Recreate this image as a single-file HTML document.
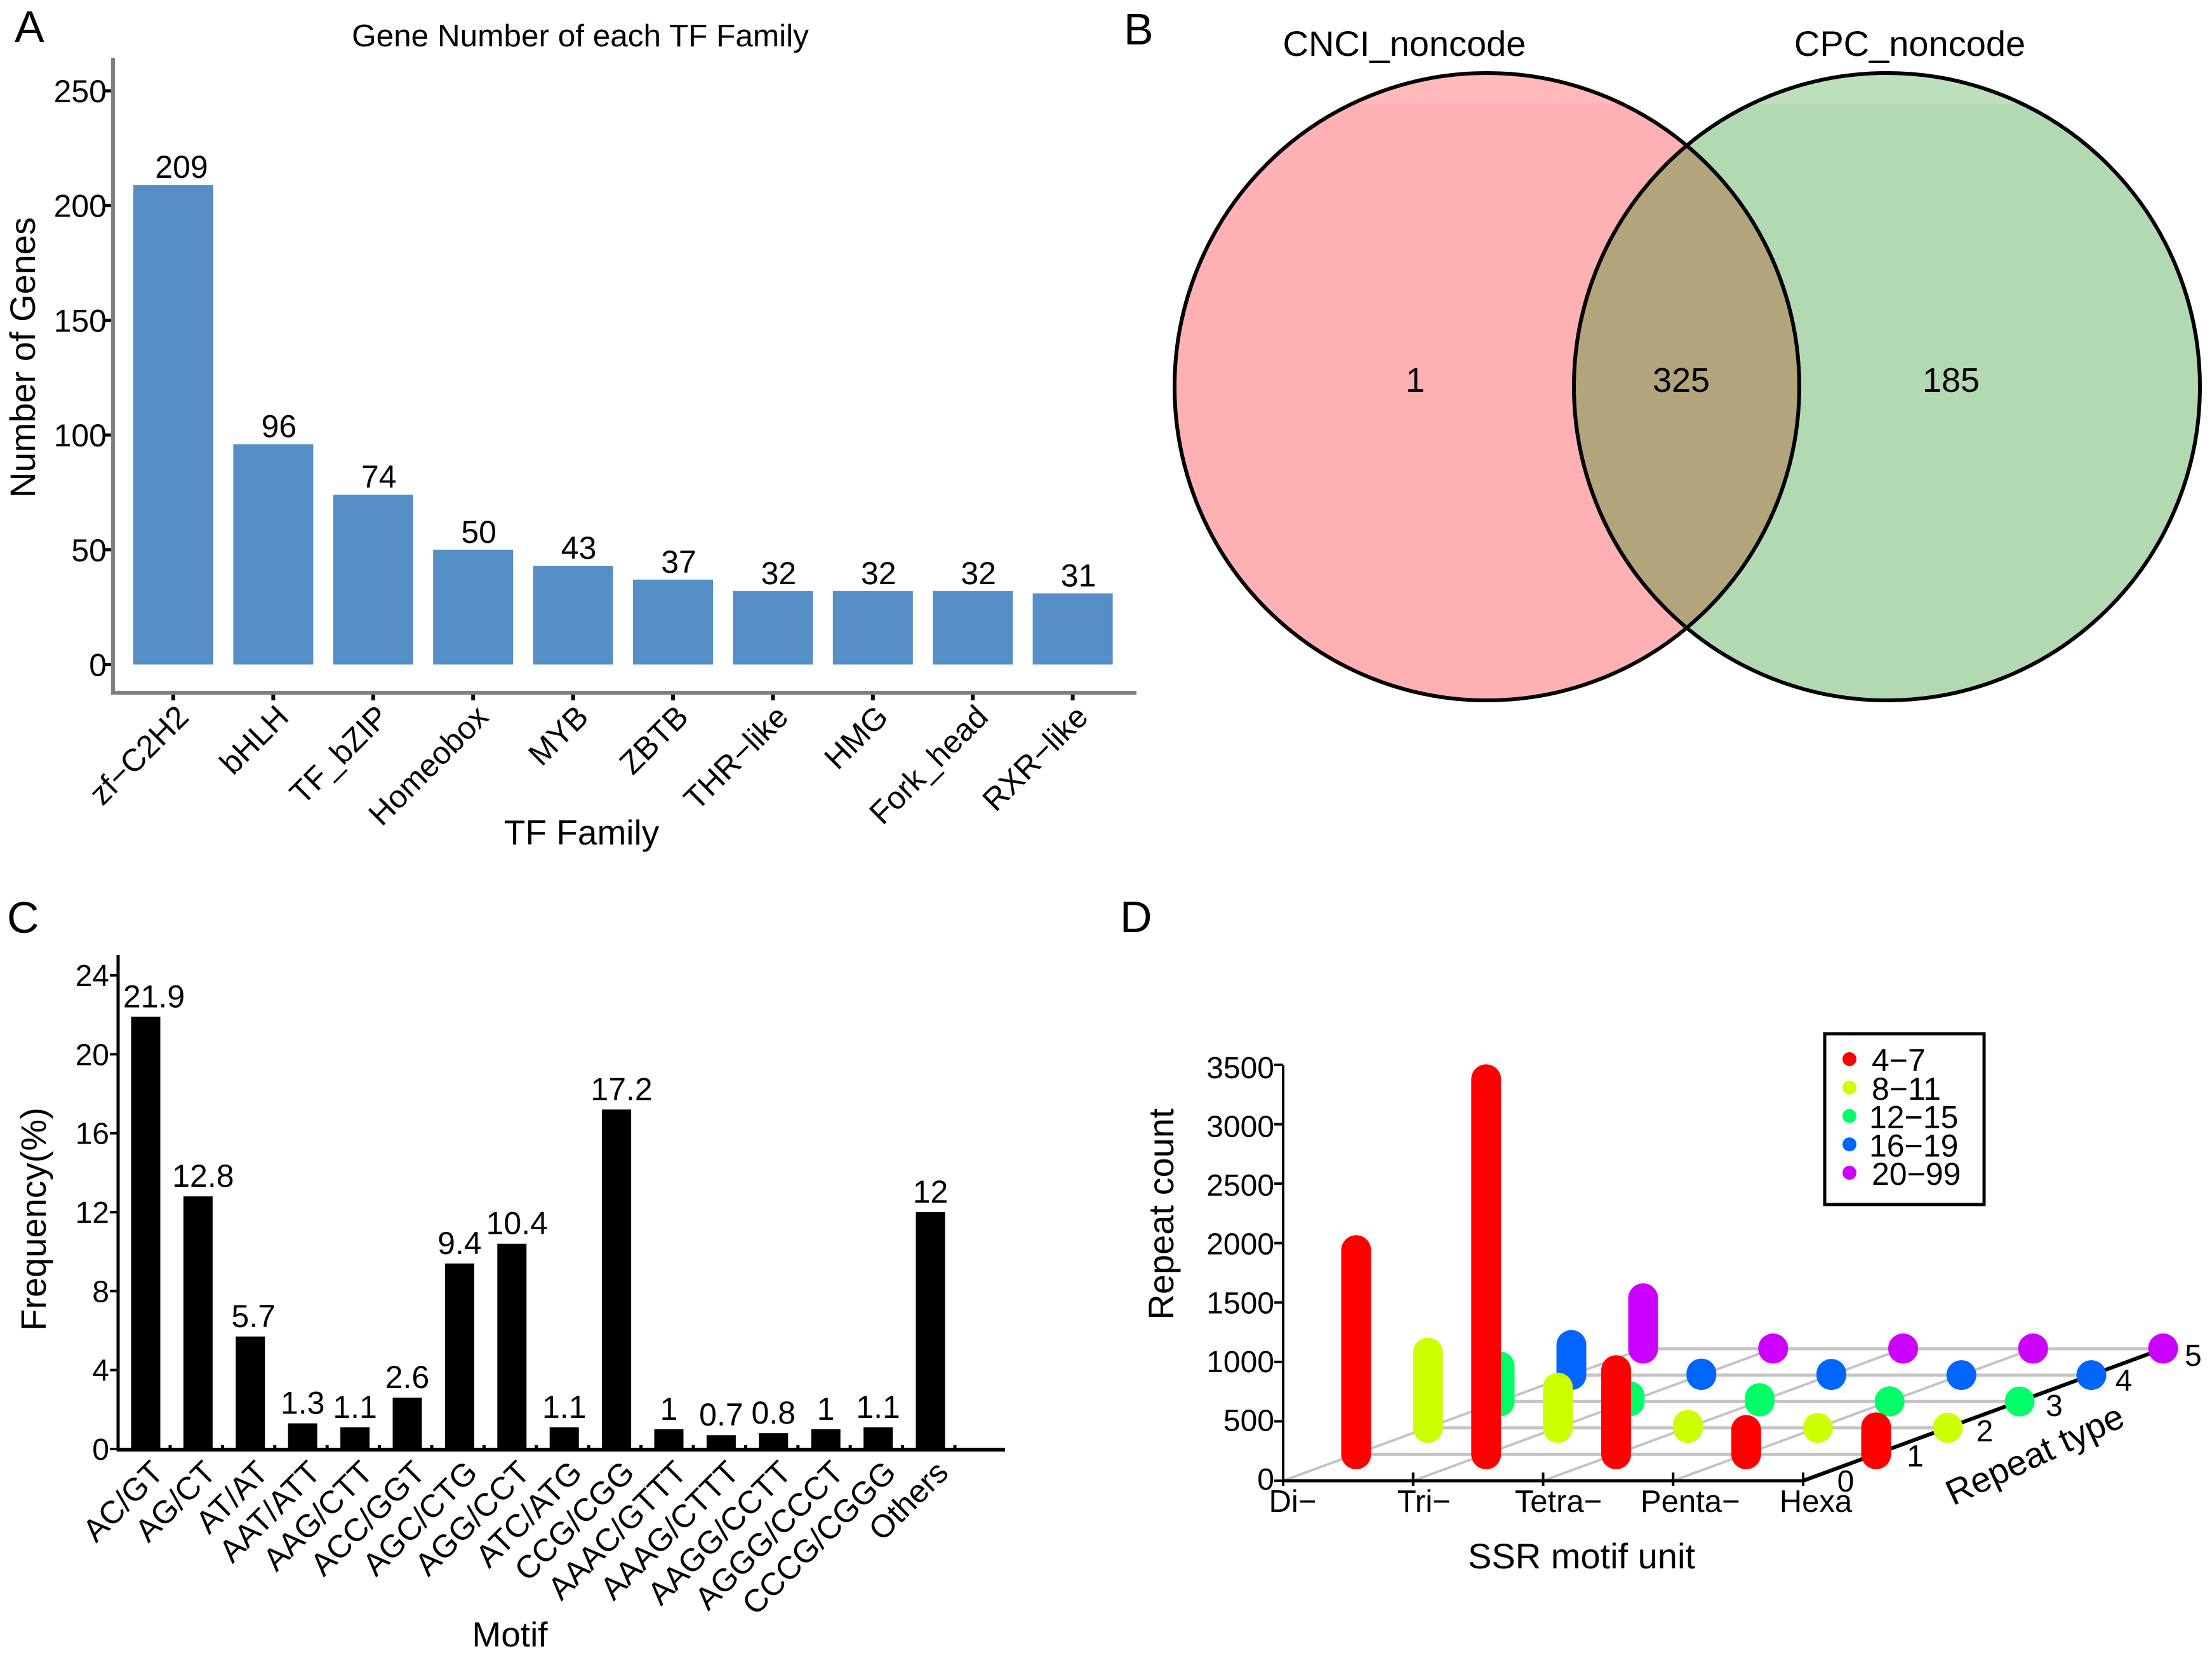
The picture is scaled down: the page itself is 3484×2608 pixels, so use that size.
<!DOCTYPE html>
<html lang="en">
<head>
<meta charset="utf-8">
<title>TF families, Venn diagram, motif frequency and SSR repeats</title>
<style>
html,body{margin:0;padding:0;background:#fff;}
svg{display:block;}
text{font-family:"Liberation Sans",Arial,sans-serif;fill:#000;}
</style>
</head>
<body>
<svg id="figure" xmlns="http://www.w3.org/2000/svg" width="3484" height="2608" viewBox="0 0 3484 2608">
  <rect x="0" y="0" width="3484" height="2608" fill="#fff"/>

  <text x="23" y="66" font-size="70">A</text>
  <text x="1770" y="70" font-size="70">B</text>
  <text x="11" y="1469" font-size="70">C</text>
  <text x="1764" y="1468" font-size="70">D</text>

  <g id="panel-a">
    <text x="914" y="73" font-size="49.5" text-anchor="middle">Gene Number of each TF Family</text>
    <text transform="translate(55,563) rotate(-90)" font-size="56" text-anchor="middle">Number of Genes</text>
    <text x="916" y="1330" font-size="55" text-anchor="middle">TF Family</text>
  </g>

  <g id="panel-b">
    <defs>
      <clipPath id="clip-left"><ellipse cx="2342" cy="609" rx="492" ry="494"/></clipPath>
      <clipPath id="clip-right"><ellipse cx="2972" cy="609" rx="493" ry="494"/></clipPath>
    </defs>
    <ellipse cx="2342" cy="609" rx="492" ry="494" fill="#ffb0b2"/>
    <ellipse cx="2972" cy="609" rx="493" ry="494" fill="#b3d9b3"/>
    <rect x="1848" y="110" width="1000" height="54" fill="#ffb9ba" clip-path="url(#clip-left)"/>
    <rect x="2477" y="110" width="990" height="54" fill="#bddfbd" clip-path="url(#clip-right)"/>
    <g clip-path="url(#clip-left)">
      <ellipse cx="2972" cy="609" rx="493" ry="494" fill="#b2a47b"/>
    </g>
    <ellipse cx="2342" cy="609" rx="492" ry="494" fill="none" stroke="#000" stroke-width="6"/>
    <ellipse cx="2972" cy="609" rx="493" ry="494" fill="none" stroke="#000" stroke-width="6"/>
    <text x="2212" y="88" font-size="56" text-anchor="middle">CNCI_noncode</text>
    <text x="3008" y="88" font-size="56" text-anchor="middle">CPC_noncode</text>
    <text x="2229" y="617" font-size="54" text-anchor="middle">1</text>
    <text x="2648" y="617" font-size="54" text-anchor="middle">325</text>
    <text x="3073" y="617" font-size="54" text-anchor="middle">185</text>
  </g>

  <g id="panel-c">
    <text transform="translate(72,1920) rotate(-90)" font-size="56" text-anchor="middle">Frequency(%)</text>
    <text x="803" y="2593" font-size="55" text-anchor="middle">Motif</text>
  </g>

  <g id="panel-d">
    <text transform="translate(1848,1912) rotate(-90)" font-size="56" text-anchor="middle">Repeat count</text>
    <text x="2491" y="2470" font-size="56" text-anchor="middle">SSR motif unit</text>
    <text transform="translate(3213,2308) rotate(-25)" font-size="56" text-anchor="middle">Repeat type</text>
    <rect x="2874" y="1628" width="251" height="269" fill="#fff" stroke="#000" stroke-width="5"/>
  </g>
</svg>

<script>
// ---- Panel A data ----
const tfFamilies = ['zf\u2212C2H2', 'bHLH', 'TF_bZIP', 'Homeobox', 'MYB', 'ZBTB', 'THR\u2212like', 'HMG', 'Fork_head', 'RXR\u2212like'];
const tfGeneCounts = [209, 96, 74, 50, 43, 37, 32, 32, 32, 31];
const tfTicks = [0, 50, 100, 150, 200, 250];

// ---- Panel C data ----
const motifNames = ['AC/GT', 'AG/CT', 'AT/AT', 'AAT/ATT', 'AAG/CTT', 'ACC/GGT', 'AGC/CTG', 'AGG/CCT', 'ATC/ATG', 'CCG/CGG', 'AAAC/GTTT', 'AAAG/CTTT', 'AAGG/CCTT', 'AGGG/CCCT', 'CCCG/CGGG', 'Others'];
const motifFrequency = [21.9, 12.8, 5.7, 1.3, 1.1, 2.6, 9.4, 10.4, 1.1, 17.2, 1, 0.7, 0.8, 1, 1.1, 12];
const motifTicks = [0, 4, 8, 12, 16, 20, 24];

// ---- Panel D data ----
const ssrUnits = ['Di\u2212', 'Tri\u2212', 'Tetra\u2212', 'Penta\u2212', 'Hexa'];
const ssrCountTicks = [0, 500, 1000, 1500, 2000, 2500, 3000, 3500];
const repeatTypeTicks = [0, 1, 2, 3, 4, 5];
const repeatClasses = ['4\u22127', '8\u221211', '12\u221215', '16\u221219', '20\u221299'];
const counts4to7 = [1844, 3282, 834, 331, 353];
const counts8to11 = [759, 465, 152, 125, 128];
const counts12to15 = [422, 171, 155, 128, 123];
const counts16to19 = [379, 139, 136, 125, 125];
const counts20to99 = [550, 128, 128, 128, 128];
const ssrSeries = [counts4to7, counts8to11, counts12to15, counts16to19, counts20to99];
const ssrColors = ['#ff0000', '#ccff00', '#00ff66', '#0066ff', '#cc00ff'];

const SVGNS = 'http://www.w3.org/2000/svg';

function make(parent, tag, attrs, name) {
  const el = document.createElementNS(SVGNS, tag);
  for (const k in attrs) el.setAttribute(k, attrs[k]);
  
  
  parent.appendChild(el);
  return el;
}
function line(parent, x1, y1, x2, y2, stroke, width, name, cap) {
  return make(parent, 'line', {x1: x1, y1: y1, x2: x2, y2: y2, stroke: stroke, 'stroke-width': width, 'stroke-linecap': cap || 'butt'}, name);
}
function label(parent, x, y, str, size, anchor, name, rotate) {
  const attrs = {'font-size': size, 'text-anchor': anchor};
  if (rotate) {
    attrs.transform = 'translate(' + x + ',' + y + ') rotate(' + rotate + ')';
  } else {
    attrs.x = x;
    attrs.y = y;
  }
  const t = make(parent, 'text', attrs, name);
  t.textContent = str;
  return t;
}

// ---- Panel A ----
(function () {
  const g = document.getElementById('panel-a');
  const yA = v => 1046.5 - v * (1046.5 - 143) / 250;
  const xA = i => 273 + i * 157.4;
  const barW = 126;
  tfGeneCounts.forEach((v, i) => {
    make(g, 'rect', {x: xA(i) - barW / 2, y: yA(v), width: barW, height: yA(0) - yA(v), fill: '#568ec6'}, 'bar-' + tfFamilies[i].toLowerCase().replace(/[^a-z0-9]+/g, '-'));
    label(g, xA(i) + (v >= 100 ? 13 : 9), yA(v) - 11, String(v), 50, 'middle', 'bar-value-label');
    line(g, xA(i), 1091, xA(i), 1103, '#000', 6, 'x-tick');
    label(g, xA(i) + 27, 1132, tfFamilies[i], 50, 'end', 'x-tick-label', -45);
  });
  tfTicks.forEach(v => {
    line(g, 165, yA(v), 178, yA(v), '#000', 5, 'y-tick');
    label(g, 168, yA(v) + 18, String(v), 50, 'end', 'y-tick-label');
  });
  line(g, 178, 91, 178, 1093, '#808080', 6, 'y-axis-line');
  line(g, 175, 1091, 1790, 1091, '#808080', 6, 'x-axis-line');
})();

// ---- Panel C ----
(function () {
  const g = document.getElementById('panel-c');
  const yC = v => 2282 - v * (2282 - 1536) / 24;
  const xC = i => 229.5 + i * 82.4;
  const barW = 46;
  motifFrequency.forEach((v, i) => {
    make(g, 'rect', {x: xC(i) - barW / 2, y: yC(v), width: barW, height: yC(0) - yC(v), fill: '#000'}, 'bar-' + motifNames[i].toLowerCase().replace(/[^a-z0-9]+/g, '-'));
    const str = String(v);
    const shift = i === 0 ? 13 : i === 2 ? 5 : str.length >= 4 ? 8 : 0;
    label(g, xC(i) + shift, yC(v) - 15, str, 50, 'middle', 'bar-value-label');
    line(g, xC(i) + 38.5, 2276, xC(i) + 38.5, 2283, '#000', 5, 'x-minor-tick');
    label(g, xC(i) + 31, 2322, motifNames[i], 50.5, 'end', 'x-tick-label', -45);
  });
  motifTicks.forEach(v => {
    line(g, 173, yC(v), 186, yC(v), '#000', 4, 'y-tick');
    label(g, 172, yC(v) + 17, String(v), 48, 'end', 'y-tick-label');
  });
  line(g, 186, 1504, 186, 2285, '#000', 5, 'y-axis-line');
  line(g, 184, 2283, 1583, 2283, '#000', 6, 'x-axis-line');
})();

// ---- Panel D ----
(function () {
  const g = document.getElementById('panel-d');
  const legendBox = g.querySelector('rect');
  const ox = 2021, oy = 2332;
  const stepX = 204.75, depthX = 113, depthY = 41.6;
  const countScale = (2332 - 1677) / 3500;
  const tickLabelScale = (2329 - 1681) / 3500;
  const baseX = (i, d) => ox + i * stepX + d * depthX;
  const colX = (i, d) => baseX(i, d) + (d > 0 ? 2 : 0);
  const baseY = d => oy - d * depthY;
  const yD = v => oy - v * countScale;
  const radius = 23.5;

  // floor grid
  for (let d = 1; d <= 5; d++) {
    line(g, colX(0, d), baseY(d), colX(4, d), baseY(d), '#c4c4c4', 5, 'floor-grid-row');
  }
  for (let i = 0; i <= 3; i++) {
    line(g, colX(i, 0), baseY(0), colX(i, 5), baseY(5), '#c4c4c4', 4, 'floor-grid-column');
  }

  // axes
  line(g, 2021, 1677, 2021, 2334, '#000', 4, 'y-axis-line');
  line(g, 2021, oy, 2841, oy, '#000', 5, 'x-axis-line');
  line(g, colX(4, 0), baseY(0), colX(4, 5), baseY(5), '#000', 6, 'depth-axis-line');

  ssrCountTicks.forEach(v => {
    line(g, 2007, yD(v), 2021, yD(v), '#000', 4, 'y-tick');
    label(g, 2007, 2346 - v * tickLabelScale, String(v), 48, 'end', 'y-tick-label');
  });
  ssrUnits.forEach((u, i) => {
    line(g, baseX(i, 0), oy - 13, baseX(i, 0), oy + 8, '#000', 4, 'x-tick');
    label(g, baseX(i, 0) + 15 + (i === 2 ? 9 : i === 3 ? 12 : i === 4 ? 5 : i === 1 ? 2 : 0), 2381, u, 49, 'middle', 'x-tick-label');
  });
  repeatTypeTicks.forEach(d => {
    label(g, 2907 + d * 109.5, 2349 - d * 39.6, String(d), 48, 'middle', 'depth-tick-label');
  });

  // columns, back row first so the front row overlaps
  for (let s = ssrSeries.length - 1; s >= 0; s--) {
    const d = s + 1;
    ssrSeries[s].forEach((v, i) => {
      const x = colX(i, d);
      const h = Math.max(0, v * countScale - radius);
      line(g, x, baseY(d), x, baseY(d) - h, ssrColors[s], radius * 2, 'column-' + repeatClasses[s].replace('\u2212', '-') + '-' + ssrUnits[i].replace('\u2212', '').toLowerCase(), 'round');
    });
  }

  // legend sits on top
  g.appendChild(legendBox);
  repeatClasses.forEach((c, k) => {
    const y = 1668 + k * 44.75;
    make(g, 'circle', {cx: 2913, cy: y, r: 11, fill: ssrColors[k]}, 'legend-dot');
    label(g, k === 0 || k === 1 || k === 4 ? 2948 : 2944, y + 19, c, 50, 'start', 'legend-entry');
  });
})();
</script>
</body>
</html>
